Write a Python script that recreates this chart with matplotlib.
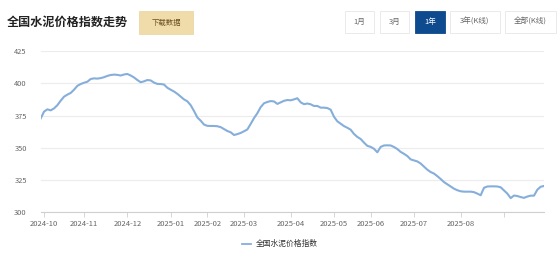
import matplotlib
matplotlib.use("Agg")
import matplotlib.pyplot as plt
from matplotlib.patches import Rectangle
from matplotlib.lines import Line2D

plt.rcParams['font.family'] = ['Noto Sans CJK SC', 'DejaVu Sans']

title = "全国水泥价格指数走势"
series_name = "全国水泥价格指数"
buttons = ["1月", "3月", "1年", "3年(K线)", "全部(K线)"]
active_button = "1年"

# one record per sample (category axis)
values = [
    372.8, 378.0, 379.8, 379.0, 380.5, 383.0, 386.5, 389.6, 391.2, 392.5,
    395.0, 398.0, 399.4, 400.4, 401.2, 403.3, 403.8, 403.6, 404.0, 404.7,
    405.7, 406.4, 406.7, 406.5, 406.0, 406.8, 407.2, 406.0, 404.5, 402.5,
    400.8, 401.5, 402.5, 402.2, 400.5, 399.5, 399.4, 399.0, 396.5, 395.0,
    393.6, 391.8, 389.6, 387.5, 386.0, 383.0, 378.5, 373.5, 371.0, 368.0,
    367.0, 366.9, 366.9, 366.7, 366.0, 364.5, 363.0, 362.0, 359.9, 360.6,
    361.5, 362.8, 364.2, 368.5, 373.0, 376.8, 381.5, 384.5, 385.5, 386.2,
    385.9, 384.0, 385.2, 386.4, 387.0, 386.8, 387.5, 388.4, 385.2, 383.8,
    384.3, 383.7, 382.4, 382.4, 381.1, 381.1, 380.8, 379.5, 374.0, 370.5,
    368.6, 366.8, 365.5, 364.0, 360.7, 358.4, 356.8, 354.0, 351.5, 350.7,
    349.2, 346.5, 350.7, 351.8, 351.9, 351.8, 350.6, 349.0, 346.8, 345.3,
    343.6, 341.0, 340.2, 339.4, 337.8, 335.4, 333.0, 331.2, 330.0, 328.0,
    325.8, 323.4, 321.7, 320.0, 318.3, 317.1, 316.3, 316.0, 316.0, 316.0,
    315.6, 314.5, 313.2, 319.0, 320.0, 320.1, 320.1, 320.0, 319.4, 317.0,
    314.5, 311.0, 313.0, 312.6, 311.8, 311.2, 312.2, 312.9, 312.9, 317.5,
    319.8, 320.4,
]
month_labels = ["2024-10", "2024-11", "2024-12", "2025-01", "2025-02", "2025-03",
                "2025-04", "2025-05", "2025-06", "2025-07", "2025-08", ""]
month_first_record = [1, 13, 26, 39, 50, 61, 75, 88, 99, 112, 126, 139]
y_ticks = [300, 325, 350, 375, 400, 425]

W, H = 560, 258
fig = plt.figure(figsize=(W / 100, H / 100), dpi=100)
fig.patch.set_facecolor("white")

def fx(px):
    return px / W

def fy(py):
    return 1 - py / H

ax = fig.add_axes([fx(40.7), fy(212.3), fx(544) - fx(40.7), fy(51) - fy(212.3)])
xs = list(range(len(values)))
line_color = "#86aedb"
ax.plot(xs, values, color=line_color, lw=1.5, solid_joinstyle="round")
ax.set_xlim(0, len(values) - 1)
ax.set_ylim(300, 425)
ax.set_yticks(y_ticks)
ax.set_yticklabels([str(v) for v in y_ticks])
ax.set_xticks(month_first_record)
ax.set_xticklabels(month_labels)
ax.grid(axis="y", color="#ececec", lw=0.8)
ax.set_axisbelow(True)
for s in ["top", "right", "left"]:
    ax.spines[s].set_visible(False)
ax.spines["bottom"].set_color("#cfcfcf")
ax.spines["bottom"].set_linewidth(0.8)
ax.tick_params(axis="y", length=0, pad=10, labelsize=5.4, labelcolor="#666666")
ax.tick_params(axis="x", length=3.5, width=0.6, color="#cfcfcf", pad=2,
               labelsize=5.5, labelcolor="#666666")

# header
fig.text(fx(6.5), fy(22.5), title, fontsize=8.7, fontweight="bold",
         color="#222222", va="center", ha="left")
# download button
fig.add_artist(Rectangle((fx(139), fy(34)), fx(193) - fx(139), fy(11) - fy(34),
                         transform=fig.transFigure, facecolor="#f0dcaa",
                         edgecolor="#ead39c", lw=0.5))
fig.text(fx(166), fy(22.5), "下载数据", fontsize=5.3, color="#6b4f22",
         ha="center", va="center")

btn_boxes = [(345, 374), (380, 409), (415, 445), (450, 500), (505, 556)]
for label, (x0, x1) in zip(buttons, btn_boxes):
    active = label == active_button
    fig.add_artist(Rectangle((fx(x0), fy(33)), fx(x1) - fx(x0), fy(11) - fy(33),
                             transform=fig.transFigure,
                             facecolor="#0d4a8e" if active else "white",
                             edgecolor="#0d4a8e" if active else "#e6e6e6", lw=0.6))
    fig.text(fx((x0 + x1) / 2), fy(22), label, fontsize=5.5,
             color="white" if active else "#666666", ha="center", va="center")

# legend
fig.add_artist(Line2D([fx(241.5), fx(250.5)], [fy(243.5), fy(243.5)],
                      transform=fig.transFigure, color=line_color, lw=1.3))
fig.text(fx(256), fy(243.5), series_name, fontsize=5.6, color="#333333",
         ha="left", va="center")

fig.savefig("out.png", dpi=100, facecolor="white")
